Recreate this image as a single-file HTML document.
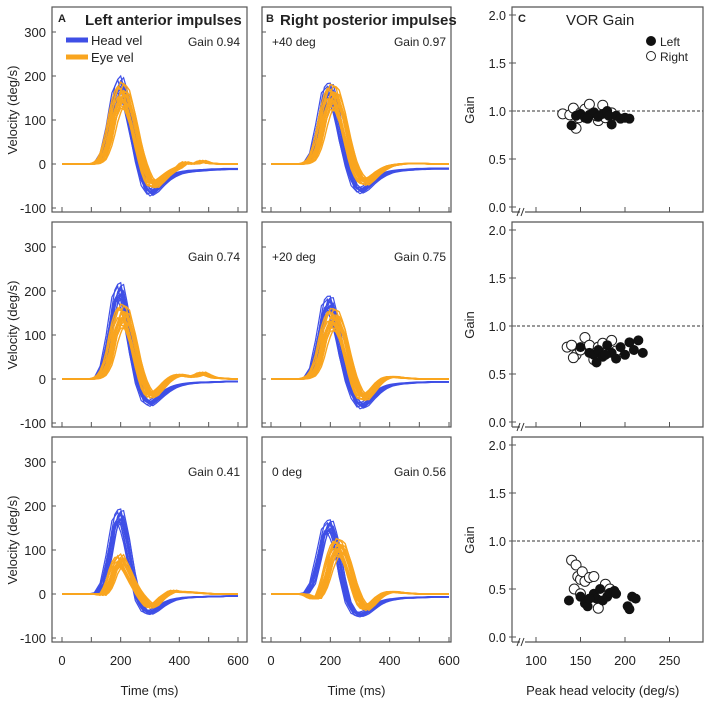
<!DOCTYPE html>
<html><head><meta charset="utf-8"><style>
body{margin:0;background:#fff;}
svg{display:block;font-family:"Liberation Sans",sans-serif;}
</style></head><body>
<svg id="fig" width="708" height="704" viewBox="0 0 708 704" xmlns="http://www.w3.org/2000/svg"></svg>
<script>
// time grid for templates (ms)
const times=[0,20,40,60,80,100,120,140,160,180,200,220,240,260,280,300,320,340,360,380,400,420,440,460,480,500,520,540,560,580,600];
const headA1=[0,0,0,0,0,0,3,25,85,165,195,150,75,5,-50,-70,-62,-48,-36,-28,-22,-19,-17,-16,-15,-14,-13,-13,-12,-12,-12];
const eyeA1=[0,0,0,0,0,0,2,15,60,130,170,160,110,45,-10,-45,-50,-38,-25,-15,-8,5,0,1,8,2,1,0,0,0,0];
const headB1=[0,0,0,0,0,0,3,25,90,165,180,130,55,-5,-50,-65,-58,-45,-34,-26,-20,-17,-15,-14,-13,-12,-12,-11,-11,-11,-11];
const eyeB1=[0,0,0,0,0,0,2,12,50,120,165,160,115,50,-5,-35,-45,-35,-22,-12,-5,-2,0,1,1,1,1,0,0,0,0];
const headA2=[0,0,0,0,0,0,3,30,100,190,215,150,60,-10,-50,-60,-50,-38,-28,-20,-15,-12,-10,-9,-8,-8,-7,-7,-6,-6,-6];
const eyeA2=[0,0,0,0,0,0,2,12,45,115,155,150,100,35,-15,-40,-35,-20,-5,5,10,8,5,8,15,8,3,2,1,0,0];
const headB2=[0,0,0,0,0,0,3,25,90,170,185,130,55,-5,-45,-65,-60,-45,-32,-22,-16,-13,-11,-10,-9,-8,-8,-7,-7,-7,-7];
const eyeB2=[0,0,0,0,0,0,2,10,40,105,145,145,110,50,-5,-40,-45,-30,-12,0,5,5,3,2,1,0,0,0,0,0,0];
const headA3=[0,0,0,0,0,0,3,25,90,170,190,130,50,-15,-40,-45,-38,-28,-20,-14,-11,-9,-8,-7,-7,-6,-6,-6,-5,-5,-5];
const eyeA3=[0,0,0,0,0,0,0,-3,20,65,85,60,30,5,-15,-30,-25,-10,0,8,5,5,4,3,2,1,0,0,0,0,0];
const headB3=[0,0,0,0,0,0,3,25,85,150,165,120,40,-20,-45,-50,-45,-35,-25,-18,-14,-12,-10,-9,-9,-8,-8,-7,-7,-7,-7];
const eyeB3=[0,0,0,0,0,0,-2,-10,-10,25,80,115,110,70,20,-20,-35,-25,-10,0,5,5,3,2,1,0,0,0,0,0,0];
// per-trial amplitude factors and latency shifts
const headAmps=[0.85,0.9,0.95,1.0,1.03,0.92,0.97,0.88,1.05,0.93,0.98,0.9];
const eyeAmps=[0.8,0.9,0.95,1.0,1.08,0.88,0.97,0.85,1.1,0.92,1.02,0.75,0.98,0.9,0.82,1.05,0.94,0.87];
const shifts=[-8,-4,0,4,8,-6,2,6,-2,10,-10,0,12,-12,14,-14,5,-5];
const velTicks=[-100,0,100,200,300];
const timeTicks=[0,100,200,300,400,500,600];
const timeLabels=[0,200,400,600];
const gainLabels=["Gain 0.94","Gain 0.97","Gain 0.74","Gain 0.75","Gain 0.41","Gain 0.56"];
const pitchLabels=["+40 deg","+20 deg","0 deg"];
// panel C data: [peak head velocity, gain]
const leftR1=[[140,0.85],[145,0.95],[150,0.97],[155,0.93],[160,0.96],[165,0.98],[175,0.97],[180,1.0],[182,0.95],[185,0.86],[190,0.95],[195,0.92],[200,0.93],[205,0.92],[170,0.94],[158,0.92]];
const rightR1=[[130,0.97],[138,0.96],[142,1.03],[145,0.82],[150,0.98],[155,1.02],[160,1.07],[165,0.98],[170,0.9],[175,1.06],[178,0.93],[168,0.95],[185,0.98],[148,0.93]];
const leftR2=[[150,0.78],[160,0.72],[165,0.7],[170,0.75],[175,0.68],[180,0.8],[185,0.72],[190,0.66],[195,0.78],[200,0.7],[205,0.83],[210,0.75],[215,0.85],[220,0.72],[178,0.7],[168,0.62]];
const rightR2=[[135,0.78],[140,0.8],[145,0.7],[150,0.75],[155,0.88],[160,0.8],[165,0.65],[170,0.78],[175,0.82],[180,0.72],[185,0.85],[190,0.74],[142,0.67]];
const leftR3=[[137,0.38],[150,0.42],[155,0.35],[158,0.32],[165,0.45],[168,0.4],[172,0.5],[175,0.38],[180,0.42],[183,0.46],[188,0.48],[190,0.45],[203,0.32],[205,0.29],[208,0.42],[212,0.4],[160,0.4]];
const rightR3=[[140,0.8],[145,0.75],[147,0.63],[150,0.6],[152,0.68],[155,0.58],[160,0.62],[165,0.63],[143,0.5],[170,0.3],[178,0.55],[183,0.5],[150,0.45],[172,0.45]];
const gainTicks=[0,0.5,1.0,1.5,2.0];
const pvTicks=[100,150,200,250];

const NS="http://www.w3.org/2000/svg";
const svg=document.getElementById('fig');
function mk(tag,attrs,parent){const e=document.createElementNS(NS,tag);for(const k in attrs)e.setAttribute(k,attrs[k]);(parent||svg).appendChild(e);return e;}
function txt(s,x,y,size,anchor,extra,name){const e=mk('text',Object.assign({x:x,y:y,'font-size':size,'text-anchor':anchor||'start',fill:'#222'},extra||{}));e.textContent=s;


return e;}

const BLUE="#3f4fe6", ORANGE="#f9a51f";
const cols=[{x0:52,x1:247,t0:62,t1:238},{x0:262,x1:451,t0:271,t1:449}];
const heads=[[headA1,headB1],[headA2,headB2],[headA3,headB3]];
const eyes=[[eyeA1,eyeB1],[eyeA2,eyeB2],[eyeA3,eyeB3]];
function interp(arr,t){if(t<=0)return arr[0];if(t>=600)return arr[arr.length-1];const i=Math.floor(t/20);const f=(t-i*20)/20;return arr[i]*(1-f)+arr[i+1]*f;}

for(let r=0;r<3;r++){
  const top=7+215*r,bot=212+215*r;
  const ys=v=>164+215*r-v*0.44;
  for(let c=0;c<2;c++){
    const C=cols[c];
    const xs=t=>C.t0+t*(C.t1-C.t0)/600;
    const g=mk('g',{});
    
    
    const plot=(tmpl,amps,col,w,name)=>{amps.forEach((a,k)=>{const dt=shifts[k%shifts.length];let pts=[];for(let t=0;t<=600;t+=10){pts.push(xs(t).toFixed(1)+','+ys(a*interp(tmpl,t-dt)).toFixed(1));}
      const p=mk('polyline',{points:pts.join(' '),fill:'none',stroke:col,'stroke-width':w},g);
      
      });};
    plot(heads[r][c],headAmps,BLUE,1.2,'head-velocity-trace');
    plot(eyes[r][c],eyeAmps,ORANGE,1.4,'eye-velocity-trace');
    const box=mk('rect',{x:C.x0,y:top,width:C.x1-C.x0,height:bot-top,fill:'none',stroke:'#555','stroke-width':1.2});
    
    
    velTicks.forEach(v=>{mk('line',{x1:C.x0,x2:C.x0+4,y1:ys(v),y2:ys(v),stroke:'#555'});if(c==0)txt(String(v),C.x0-6,ys(v)+5,13,'end',{},'y-tick-label');});
    timeTicks.forEach(t=>{mk('line',{x1:xs(t),x2:xs(t),y1:bot,y2:bot-5,stroke:'#555'});});
    if(r==2){timeLabels.forEach(t=>txt(String(t),xs(t),665,13,'middle',{},'x-tick-label'));txt('Time (ms)',(C.x0+C.x1)/2,695,13,'middle',{},'x-axis-title');}
    txt(gainLabels[r*2+c],c?446:240,46,12,'end',{transform:'translate(0,'+(215*r)+')'},'gain-value');
    if(c==1)txt(pitchLabels[r],272,46+215*r,12,'start',{},'pitch-label');
  }
  txt('Velocity (deg/s)',0,0,13,'middle',{transform:'translate(17,'+(110+215*r)+') rotate(-90)'},'y-axis-title');
}
// titles and legend
txt('A',58,22,11,'start',{'font-weight':'bold'},'panel-letter-a');
txt('Left anterior impulses',85,25,15,'start',{'font-weight':'bold'},'panel-title-a');
txt('B',266,22,11,'start',{'font-weight':'bold'},'panel-letter-b');
txt('Right posterior impulses',280,25,15,'start',{'font-weight':'bold'},'panel-title-b');
let l1=mk('line',{x1:66,x2:88,y1:40,y2:40,stroke:BLUE,'stroke-width':5});


txt('Head vel',91,45,13,'start',{},'legend-head-vel');
let l2=mk('line',{x1:66,x2:88,y1:57,y2:57,stroke:ORANGE,'stroke-width':5});


txt('Eye vel',91,62,13,'start',{},'legend-eye-vel');

// Panel C
const CX0=512,CX1=703;
const px=v=>536+(v-100)*0.89;
const leftSets=[leftR1,leftR2,leftR3],rightSets=[rightR1,rightR2,rightR3];
for(let r=0;r<3;r++){
  const top=7+215*r,bot=212+215*r;
  const gy=v=>207+215*r-v*96;
  const g=mk('g',{});
  
  
  mk('line',{x1:CX0,x2:CX1,y1:gy(1),y2:gy(1),stroke:'#333','stroke-dasharray':'3,2','stroke-width':1},g);
  rightSets[r].forEach(d=>{const c=mk('circle',{cx:px(d[0]),cy:gy(d[1]),r:5,fill:'#fff',stroke:'#222','stroke-width':1},g);
    
    });
  leftSets[r].forEach(d=>{const c=mk('circle',{cx:px(d[0]),cy:gy(d[1]),r:5,fill:'#111'},g);
    
    });
  const box=mk('path',{d:`M${CX0},${bot} V${top} H${CX1} V${bot} H${CX0+13} M${CX0+8},${bot} H${CX0}`,fill:'none',stroke:'#555','stroke-width':1.2});
  
  
  mk('path',{d:`M${CX0+5},${bot+4} L${CX0+8},${bot-4} M${CX0+9},${bot+4} L${CX0+12},${bot-4}`,stroke:'#333','stroke-width':1,fill:'none'});
  gainTicks.forEach(v=>{mk('line',{x1:CX0-3,x2:CX0+4,y1:gy(v),y2:gy(v),stroke:'#555'});txt(v.toFixed(1),CX0-6,gy(v)+5,12.5,'end',{},'y-tick-label');});
  pvTicks.forEach(v=>mk('line',{x1:px(v),x2:px(v),y1:bot,y2:bot-5,stroke:'#555'}));
  txt('Gain',0,0,13,'middle',{transform:'translate(474,'+(110+215*r)+') rotate(-90)'},'y-axis-title');
  if(r==2){pvTicks.forEach(v=>txt(String(v),px(v),665,13,'middle',{},'x-tick-label'));txt('Peak head velocity (deg/s)',px(175),695,13,'middle',{},'x-axis-title');}
}
txt('C',518,22,11,'start',{'font-weight':'bold'},'panel-letter-c');
txt('VOR Gain',566,25,15,'start',{},'panel-title-c');
let lc=mk('circle',{cx:651,cy:41,r:5,fill:'#111'});


txt('Left',660,46,12,'start',{},'legend-left');
let rc=mk('circle',{cx:651,cy:56,r:4.5,fill:'#fff',stroke:'#222'});


txt('Right',660,61,12,'start',{},'legend-right');
</script>
</body></html>
